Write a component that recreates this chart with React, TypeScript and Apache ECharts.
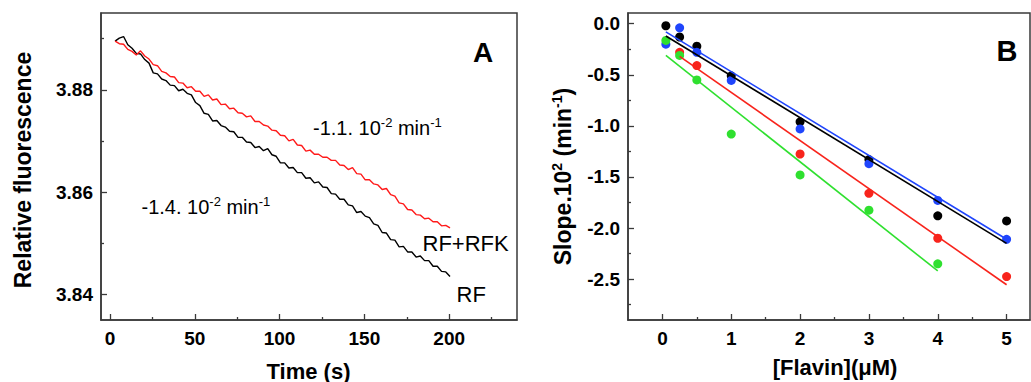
import React, { useEffect, useRef } from "react";
import * as echarts from "echarts";

// ---------- Panel A data ----------
const timeS = [
  3, 5.5, 8, 10.5, 13, 15.5, 18, 20.5, 23, 25.5, 28, 30.5, 33, 35.5, 38, 40.5, 43, 45.5, 48, 50.5,
  53, 55.5, 58, 60.5, 63, 65.5, 68, 70.5, 73, 75.5, 78, 80.5, 83, 85.5, 88, 90.5, 93, 95.5, 98, 100.5,
  103, 105.5, 108, 110.5, 113, 115.5, 118, 120.5, 123, 125.5, 128, 130.5, 133, 135.5, 138, 140.5, 143, 145.5, 148, 150.5,
  153, 155.5, 158, 160.5, 163, 165.5, 168, 170.5, 173, 175.5, 178, 180.5, 183, 185.5, 188, 190.5, 193, 195.5, 198, 200.5,
];
const fluorRFK = [
  3.8895, 3.889, 3.8889, 3.8879, 3.8875, 3.8868, 3.8876, 3.8866, 3.886, 3.8849, 3.8847, 3.8836, 3.8833, 3.8826, 3.8825, 3.8814, 3.8813, 3.8804, 3.8806, 3.8797,
  3.8797, 3.8787, 3.879, 3.878, 3.8782, 3.8771, 3.8772, 3.8763, 3.8764, 3.8755, 3.8754, 3.8747, 3.8749, 3.8738, 3.8738, 3.8731, 3.8729, 3.8721, 3.872, 3.8711,
  3.871, 3.87, 3.8703, 3.8692, 3.8691, 3.868, 3.8682, 3.8674, 3.8674, 3.8668, 3.8668, 3.8662, 3.8662, 3.8653, 3.8652, 3.8644, 3.8648, 3.8636, 3.8635, 3.8624,
  3.8624, 3.8616, 3.8614, 3.8605, 3.8607, 3.8595, 3.8592, 3.8579, 3.8577, 3.8566, 3.8565, 3.8556, 3.8555, 3.8548, 3.8549, 3.8542, 3.8542, 3.8534, 3.8535, 3.853,
];
const fluorRF = [
  3.8895, 3.8901, 3.8904, 3.8888, 3.8881, 3.8871, 3.887, 3.8859, 3.8852, 3.8833, 3.8831, 3.8821, 3.8818, 3.8809, 3.8808, 3.8798, 3.8801, 3.8793, 3.879, 3.8775,
  3.8769, 3.8754, 3.8752, 3.8739, 3.874, 3.873, 3.8727, 3.8719, 3.8718, 3.8707, 3.8707, 3.8698, 3.8697, 3.8687, 3.8689, 3.8681, 3.8685, 3.8673, 3.867, 3.8657,
  3.8657, 3.8647, 3.8648, 3.8638, 3.8638, 3.8627, 3.8628, 3.8618, 3.862, 3.861, 3.8609, 3.8597, 3.8596, 3.8586, 3.8586, 3.8575, 3.8573, 3.856, 3.8562, 3.8553,
  3.855, 3.8538, 3.8535, 3.8521, 3.852, 3.8507, 3.8506, 3.8493, 3.8494, 3.8483, 3.8483, 3.8473, 3.8475, 3.8466, 3.8466, 3.8455, 3.8455, 3.8445, 3.8444, 3.8435,
];
const timeTicks = [0, 50, 100, 150, 200];
const timeMinorTicks = [25, 75, 125, 175, 225];
const fluorTicks = [3.84, 3.86, 3.88];
const fluorMinorTicks = [3.85, 3.87, 3.89];

// ---------- Panel B data ----------
const flavinBlack = [0.05, 0.25, 0.5, 1, 2, 3, 4, 5];
const slopeBlack = [-0.02, -0.13, -0.22, -0.51, -0.96, -1.33, -1.88, -1.93];
const flavinBlue = [0.05, 0.25, 0.5, 1, 2, 3, 4, 5];
const slopeBlue = [-0.2, -0.04, -0.28, -0.555, -1.03, -1.37, -1.73, -2.11];
const flavinRed = [0.25, 0.5, 2, 3, 4, 5];
const slopeRed = [-0.28, -0.41, -1.275, -1.66, -2.1, -2.475];
const flavinGreen = [0.05, 0.25, 0.5, 1, 2, 3, 4];
const slopeGreen = [-0.163, -0.31, -0.55, -1.08, -1.48, -1.825, -2.35];

const fitBlackX = [0.05, 5];
const fitBlackY = [-0.12, -2.15];
const fitBlueX = [0.05, 5];
const fitBlueY = [-0.08, -2.11];
const fitRedX = [0.25, 5];
const fitRedY = [-0.32, -2.555];
const fitGreenX = [0.05, 4];
const fitGreenY = [-0.31, -2.42];

const flavinTicks = [0, 1, 2, 3, 4, 5];
const flavinMinorTicks = [0.5, 1.5, 2.5, 3.5, 4.5];
const slopeTicks = [0, -0.5, -1, -1.5, -2, -2.5];
const slopeMinorTicks = [-0.25, -0.75, -1.25, -1.75, -2.25, -2.75];

const FONT = '"Liberation Sans", Arial, Helvetica, sans-serif';
const AXIS_COLOR = "#3a3a3a";
const C_BLACK = "#000000";
const C_BLUE = "#1f45fc";
const C_RED = "#f8241c";
const C_GREEN = "#2fe02f";

const zip = (xs: number[], ys: number[]) => xs.map((x, i) => [x, ys[i]]);

export default function App() {
  const ref = useRef<HTMLDivElement>(null);
  useEffect(() => {
    if (!ref.current) return;
    const chart = echarts.init(ref.current, null, { renderer: "svg" });

    const labelStyle = { color: "#000", fontFamily: FONT, fontWeight: "bold" as const, fontSize: 19 };
    const tick = (len: number, values: number[]) => ({
      show: true, inside: true, length: len, customValues: values, lineStyle: { color: AXIS_COLOR, width: 1.3 },
    });
    const mainAxis = (extra: any) => ({
      axisLine: { show: true, onZero: false, lineStyle: { color: AXIS_COLOR, width: 1.5 } },
      splitLine: { show: false },
      ...extra,
    });
    const minorAxis = (extra: any) => ({
      axisLine: { show: false, onZero: false },
      axisLabel: { show: false },
      splitLine: { show: false },
      ...extra,
    });

    const superText = (main: any, sup: any) => ({ b: main, s: sup });

    const option: any = {
      animation: false,
      grid: [
        { left: 101, top: 13, width: 416, height: 307, show: true, borderColor: AXIS_COLOR, borderWidth: 1.5, containLabel: false },
        { left: 628, top: 13, width: 402, height: 307, show: true, borderColor: AXIS_COLOR, borderWidth: 1.5, containLabel: false },
      ],
      xAxis: [
        mainAxis({
          type: "value", gridIndex: 0, min: -5.3, max: 240, position: "bottom",
          axisTick: tick(6, timeTicks),
          axisLabel: { ...labelStyle, margin: 9, customValues: timeTicks },
        }),
        minorAxis({
          type: "value", gridIndex: 0, min: -5.3, max: 240, position: "bottom",
          axisTick: tick(3, timeMinorTicks),
        }),
        mainAxis({
          type: "value", gridIndex: 1, min: -0.5, max: 5.34, position: "bottom",
          axisTick: tick(6, flavinTicks),
          axisLabel: { ...labelStyle, margin: 9, customValues: flavinTicks },
        }),
        minorAxis({
          type: "value", gridIndex: 1, min: -0.5, max: 5.34, position: "bottom",
          axisTick: tick(3, flavinMinorTicks),
        }),
      ],
      yAxis: [
        mainAxis({
          type: "value", gridIndex: 0, min: 3.835, max: 3.895, position: "left",
          axisTick: tick(6, fluorTicks),
          axisLabel: { ...labelStyle, margin: 8, customValues: fluorTicks, formatter: (v: number) => v.toFixed(2) },
        }),
        minorAxis({
          type: "value", gridIndex: 0, min: 3.835, max: 3.895, position: "left",
          axisTick: tick(3, fluorMinorTicks),
        }),
        mainAxis({
          type: "value", gridIndex: 1, min: -2.9, max: 0.105, position: "left",
          axisTick: tick(6, slopeTicks),
          axisLabel: { ...labelStyle, margin: 8, customValues: slopeTicks, formatter: (v: number) => v.toFixed(1) },
        }),
        minorAxis({
          type: "value", gridIndex: 1, min: -2.9, max: 0.105, position: "left",
          axisTick: tick(3, slopeMinorTicks),
        }),
      ],
      series: [
        { name: "RF", type: "line", xAxisIndex: 0, yAxisIndex: 0, data: zip(timeS, fluorRF), showSymbol: false, lineStyle: { color: C_BLACK, width: 1.4 }, itemStyle: { color: C_BLACK } },
        { name: "RF+RFK", type: "line", xAxisIndex: 0, yAxisIndex: 0, data: zip(timeS, fluorRFK), showSymbol: false, lineStyle: { color: "#ff1a1a", width: 1.4 }, itemStyle: { color: "#ff1a1a" } },

        { name: "fit black", type: "line", xAxisIndex: 2, yAxisIndex: 2, data: zip(fitBlackX, fitBlackY), showSymbol: false, lineStyle: { color: C_BLACK, width: 1.6 } },
        { name: "fit blue", type: "line", xAxisIndex: 2, yAxisIndex: 2, data: zip(fitBlueX, fitBlueY), showSymbol: false, lineStyle: { color: C_BLUE, width: 1.6 } },
        { name: "fit red", type: "line", xAxisIndex: 2, yAxisIndex: 2, data: zip(fitRedX, fitRedY), showSymbol: false, lineStyle: { color: C_RED, width: 1.6 } },
        { name: "fit green", type: "line", xAxisIndex: 2, yAxisIndex: 2, data: zip(fitGreenX, fitGreenY), showSymbol: false, lineStyle: { color: C_GREEN, width: 1.6 } },

        { name: "black", type: "scatter", xAxisIndex: 2, yAxisIndex: 2, data: zip(flavinBlack, slopeBlack), symbolSize: 9, itemStyle: { color: C_BLACK, opacity: 1 } },
        { name: "blue", type: "scatter", xAxisIndex: 2, yAxisIndex: 2, data: zip(flavinBlue, slopeBlue), symbolSize: 9, itemStyle: { color: C_BLUE, opacity: 1 } },
        { name: "red", type: "scatter", xAxisIndex: 2, yAxisIndex: 2, data: zip(flavinRed, slopeRed), symbolSize: 9, itemStyle: { color: C_RED, opacity: 1 } },
        { name: "green", type: "scatter", xAxisIndex: 2, yAxisIndex: 2, data: zip(flavinGreen, slopeGreen), symbolSize: 9, itemStyle: { color: C_GREEN, opacity: 1 } },
      ],
      graphic: [
        {
          type: "text", x: 22.5, y: 170, rotation: Math.PI / 2,
          style: { text: "Relative fluorescence", fontFamily: FONT, fontWeight: "bold", fontSize: 23, fill: "#000", align: "center", verticalAlign: "middle" },
        },
        {
          type: "text", x: 308.5, y: 371,
          style: { text: "Time (s)", fontFamily: FONT, fontWeight: "bold", fontSize: 22, fill: "#000", align: "center", verticalAlign: "middle" },
        },
        {
          type: "text", x: 483, y: 52.5,
          style: { text: "A", fontFamily: FONT, fontWeight: "bold", fontSize: 28, fill: "#000", align: "center", verticalAlign: "middle" },
        },
        {
          type: "text", x: 313, y: 128,
          style: {
            text: "{b|-1.1. 10}{s|-2}{b| min}{s|-1}", align: "left", verticalAlign: "middle",
            rich: superText(
              { fontFamily: FONT, fontSize: 20, fill: "#000", lineHeight: 24 },
              { fontFamily: FONT, fontSize: 13, fill: "#000", verticalAlign: "top", lineHeight: 14 }
            ),
          },
        },
        {
          type: "text", x: 141.5, y: 206.5,
          style: {
            text: "{b|-1.4. 10}{s|-2}{b| min}{s|-1}", align: "left", verticalAlign: "middle",
            rich: superText(
              { fontFamily: FONT, fontSize: 20, fill: "#000", lineHeight: 24 },
              { fontFamily: FONT, fontSize: 13, fill: "#000", verticalAlign: "top", lineHeight: 14 }
            ),
          },
        },
        {
          type: "text", x: 422.5, y: 243,
          style: { text: "RF+RFK", fontFamily: FONT, fontSize: 22, fill: "#000", align: "left", verticalAlign: "middle" },
        },
        {
          type: "text", x: 456.5, y: 294,
          style: { text: "RF", fontFamily: FONT, fontSize: 22, fill: "#000", align: "left", verticalAlign: "middle" },
        },
        {
          type: "text", x: 562.5, y: 176.5, rotation: Math.PI / 2,
          style: {
            text: "{b|Slope.10}{s|2}{b| (min}{s|-1}{b|)}", align: "center", verticalAlign: "middle",
            rich: superText(
              { fontFamily: FONT, fontWeight: "bold", fontSize: 23, fill: "#000", lineHeight: 26 },
              { fontFamily: FONT, fontWeight: "bold", fontSize: 14, fill: "#000", verticalAlign: "top", lineHeight: 15 }
            ),
          },
        },
        {
          type: "text", x: 835, y: 367,
          style: { text: "[Flavin](\u03bcM)", fontFamily: FONT, fontWeight: "bold", fontSize: 22, fill: "#000", align: "center", verticalAlign: "middle" },
        },
        {
          type: "text", x: 1007, y: 51,
          style: { text: "B", fontFamily: FONT, fontWeight: "bold", fontSize: 29, fill: "#000", align: "center", verticalAlign: "middle" },
        },
      ],
    };
    chart.setOption(option);
    return () => chart.dispose();
  }, []);
  return (
    <div
      ref={ref}
      style={{ position: "fixed", left: 0, top: 0, width: 1031, height: 382, background: "#fff" }}
    />
  );
}
